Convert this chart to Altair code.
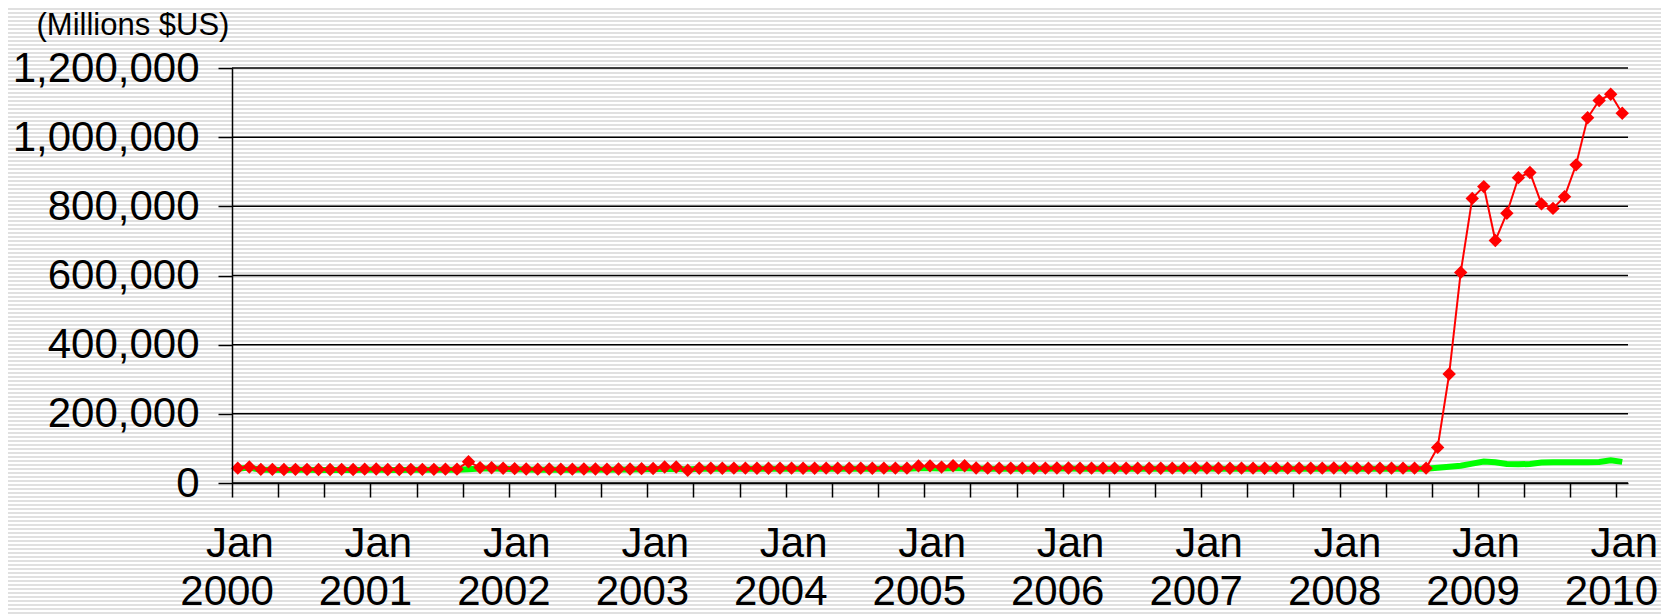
import altair as alt
import pandas as pd

# ---- data (millions of US$) ----
years = list(range(2000, 2010))
month_codes = ["01", "02", "03", "04", "05", "06", "07", "08", "09", "10", "11", "12"]

red_2000 = [43000, 46500, 39500, 39500, 39000, 39500, 39500, 39000, 39000, 39500, 39000, 40000]
red_2001 = [40500, 39000, 39000, 39500, 39500, 39500, 40000, 40000, 61500, 44500, 44000, 42500]
red_2002 = [41500, 40500, 40000, 40500, 40000, 40000, 40500, 40500, 40000, 40500, 40500, 41500]
red_2003 = [42000, 46500, 46500, 37000, 42500, 43000, 42500, 43000, 43000, 42500, 42500, 43000]
red_2004 = [43000, 42500, 42500, 43000, 43000, 43000, 43000, 42500, 43000, 43000, 43000, 49500]
red_2005 = [49500, 46000, 50000, 50000, 43500, 43000, 43000, 43000, 43000, 42500, 43000, 43500]
red_2006 = [43500, 43000, 43000, 43000, 43000, 42500, 43000, 42500, 42500, 43000, 43000, 43500]
red_2007 = [43500, 43000, 42500, 43000, 43000, 42500, 43000, 43000, 43000, 43000, 43000, 43500]
red_2008 = [43500, 43000, 43000, 43000, 43000, 43000, 43000, 43000, 103000, 315000, 609000, 823000]
red_2009 = [857000, 701000, 780000, 883000, 898000, 807000, 794000, 828000, 920000, 1056000, 1106000, 1124000]
red_2010 = [1069000]

green_2000 = [41500, 44500, 38000, 38000, 37500, 38000, 38000, 37500, 37500, 38000, 37500, 38500]
green_2001 = [39000, 37500, 37500, 38000, 38000, 38000, 38500, 38500, 40000, 42000, 42000, 41000]
green_2002 = [40000, 39000, 38500, 39000, 38500, 38500, 39000, 39000, 38500, 39000, 39000, 40000]
green_2003 = [40500, 40500, 41000, 39000, 41000, 41500, 41000, 41500, 41500, 41000, 41000, 41500]
green_2004 = [41500, 41000, 41000, 41500, 41500, 41500, 41500, 41000, 41500, 41500, 41500, 43000]
green_2005 = [43000, 42000, 42500, 42500, 42000, 41500, 41500, 41500, 41500, 41000, 41500, 42000]
green_2006 = [42000, 41500, 41500, 41500, 41500, 41000, 41500, 41000, 41000, 41500, 41500, 42000]
green_2007 = [42000, 41500, 41000, 41500, 41500, 41000, 41500, 41500, 41500, 41500, 41500, 42000]
green_2008 = [42000, 41500, 41500, 41500, 41500, 41500, 41500, 41500, 44000, 47000, 50000, 56000]
green_2009 = [62000, 60000, 55000, 54000, 55000, 59000, 60000, 60000, 60000, 60000, 61000, 66000]
green_2010 = [61000]

y_ticks = [0, 200000, 400000, 600000, 800000, 1000000, 1200000]

months = [f"{y}-{m}" for y in years for m in month_codes] + ["2010-01"]
red = (red_2000 + red_2001 + red_2002 + red_2003 + red_2004 + red_2005 +
       red_2006 + red_2007 + red_2008 + red_2009 + red_2010)
green = (green_2000 + green_2001 + green_2002 + green_2003 + green_2004 + green_2005 +
         green_2006 + green_2007 + green_2008 + green_2009 + green_2010)
n = len(months)
idx = list(range(n))                          # category index of each month
boundaries = [i - 0.5 for i in range(n + 1)]  # monthly tick marks between categories

df = pd.DataFrame({"month": months, "idx": idx, "total": red, "required": green})
grid_df = pd.DataFrame({"tick": y_ticks})

# ---- layout ----
W, H = 1396, 415
PAD = {"left": 224, "top": 60, "right": 33, "bottom": 131}
TOTAL_H = PAD["top"] + H + PAD["bottom"]
FONT = "Liberation Sans"
FS = 42
half_step = W / n / 2

# striped page background (hard-stop gradient)
STRIPE = "#e0e0e0"
stops = []
for k in range(0, TOTAL_H, 4):
    a = k / TOTAL_H
    b = min((k + 2) / TOTAL_H, 1)
    c = min((k + 4) / TOTAL_H, 1)
    stops += [alt.GradientStop(offset=a, color=STRIPE),
              alt.GradientStop(offset=b, color=STRIPE),
              alt.GradientStop(offset=b, color="#ffffff"),
              alt.GradientStop(offset=c, color="#ffffff")]
grad = alt.LinearGradient(gradient="linear", stops=stops, x1=0, y1=0, x2=0, y2=1)

bg = alt.Chart(alt.Data(values=[{"k": 0}])).mark_rect(fill=grad).encode(
    x=alt.value(-PAD["left"]), x2=alt.value(W + PAD["right"]),
    y=alt.value(-PAD["top"]), y2=alt.value(H + PAD["bottom"]),
)

x_enc = alt.X(
    "idx:Q",
    scale=alt.Scale(domain=[-0.5, n - 0.5], nice=False, zero=False),
    axis=alt.Axis(
        title=None,
        values=boundaries,
        labelExpr="(datum.value + 0.5) % 12 == 0 ? ['Jan', '' + (2000 + (datum.value + 0.5) / 12)] : ''",
        labelAngle=0,
        labelAlign="right",
        labelBaseline="top",
        labelOffset=half_step + 35.5,
        labelPadding=26,
        labelLineHeight=48,
        labelFontSize=FS,
        labelFont=FONT,
        labelColor="#000000",
        labelOverlap=False,
        labelFlush=False,
        labelBound=False,
        labelLimit=400,
        tickSize=14,
        tickColor="#000000",
        tickWidth=1.5,
        domainColor="#000000",
        domainWidth=1.5,
        grid=False,
        zindex=1,
    ),
)

y_enc = alt.Y(
    "required:Q",
    scale=alt.Scale(domain=[0, 1200000], nice=False),
    axis=alt.Axis(
        title="(Millions $US)",
        titleAngle=0,
        titleAlign="left",
        titleBaseline="alphabetic",
        titleX=-196,
        titleY=-34,
        titleFontSize=31,
        titleFont=FONT,
        titleFontWeight="normal",
        titleColor="#000000",
        values=y_ticks,
        format=",d",
        labelFontSize=FS,
        labelFont=FONT,
        labelColor="#000000",
        labelPadding=19,
        labelLimit=400,
        labelFlush=False,
        tickSize=14,
        tickColor="#000000",
        tickWidth=1.5,
        domainColor="#000000",
        domainWidth=1.5,
        grid=False,
        zindex=1,
    ),
)

grid = alt.Chart(grid_df).mark_rule(color="#000000", strokeWidth=1.5).encode(
    y=alt.Y("tick:Q")
)

green_line = alt.Chart(df).mark_line(color="#00ff00", strokeWidth=6).encode(
    x=x_enc, y=y_enc
)
red_line = alt.Chart(df).mark_line(color="#ff0000", strokeWidth=2).encode(
    x="idx:Q", y="total:Q"
)
red_pts = alt.Chart(df).mark_point(
    shape="diamond", size=180, filled=True, color="#ff0000", opacity=1
).encode(x="idx:Q", y="total:Q")

chart = alt.layer(bg, grid, green_line, red_line, red_pts).properties(
    width=W,
    height=H,
    padding=PAD,
    autosize=alt.AutoSizeParams(type="none"),
).configure_view(stroke="#000000", strokeWidth=1.5).configure(background="#ffffff")

chart.save("out.html", embed_options={"renderer": "svg", "actions": False})
